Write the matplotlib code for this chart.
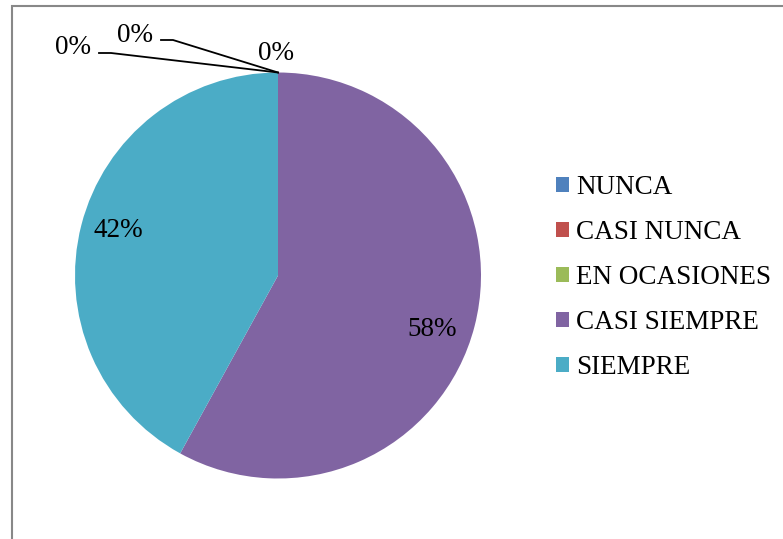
import numpy as np
import matplotlib.pyplot as plt
from matplotlib.patches import Rectangle

plt.rcParams['font.family'] = ['Liberation Serif', 'DejaVu Serif']

categorias = ['NUNCA', 'CASI NUNCA', 'EN OCASIONES', 'CASI SIEMPRE', 'SIEMPRE']
valores = [0, 0, 0, 58, 42]
colores = ['#4F81BD', '#C0504D', '#9BBB59', '#8064A2', '#4BACC6']
# posiciones de las etiquetas de 0% (pixeles, y hacia arriba)
pos_cero = [(73, 491), (135, 504), (276, 485)]
# desplazamiento de las etiquetas de porcentaje (pixeles)
desp = {3: (-5, -13), 4: (0, 4)}

W, H = 783, 539
fig = plt.figure(figsize=(W / 100, H / 100), dpi=100)
ax = fig.add_axes([0, 0, 1, 1])

cx, cy, r = 278, H - 275.5, 203
wedges, _ = ax.pie(valores, colors=colores, startangle=90, counterclock=False,
                   center=(cx, cy), radius=r, frame=True,
                   wedgeprops=dict(linewidth=0))
ax.set_xlim(0, W)
ax.set_ylim(0, H)
ax.axis('off')

fs = 19.5
total = sum(valores)
for i, (w, v) in enumerate(zip(wedges, valores)):
    if v == 0:
        continue
    ang = np.deg2rad((w.theta1 + w.theta2) / 2)
    d = 0.81 * r
    dx, dy = desp.get(i, (0, 0))
    ax.text(cx + d * np.cos(ang) + dx, cy + d * np.sin(ang) + dy, f'{v / total:.0%}',
            ha='center', va='center', fontsize=fs)

# etiquetas de los sectores vacios con lineas guia
ceros = [w for w, v in zip(wedges, valores) if v == 0]
for i, (w, (tx, ty)) in enumerate(zip(ceros, pos_cero)):
    ang = np.deg2rad(w.theta1)
    px, py = cx + r * np.cos(ang), cy + r * np.sin(ang)
    ax.text(tx, ty, '0%', ha='center', va='center', fontsize=fs)
    if i < 2:
        ax.plot([tx + 26, tx + 38, px], [ty - 5, ty - 5, py], color='black', lw=1.3)

ax.legend(wedges, categorias, loc='upper left', bbox_to_anchor=(545 / W, 1 - 164 / H),
          frameon=False, fontsize=fs, handlelength=0.5, handleheight=0.5,
          handletextpad=0.25, labelspacing=0.74, borderaxespad=0)

fig.patches.append(Rectangle((12 / W, -0.1), 1.2, 1 - 6 / H + 0.1, transform=fig.transFigure,
                             fill=False, edgecolor='#888888', lw=1.5))

fig.savefig('out.png', dpi=100)
